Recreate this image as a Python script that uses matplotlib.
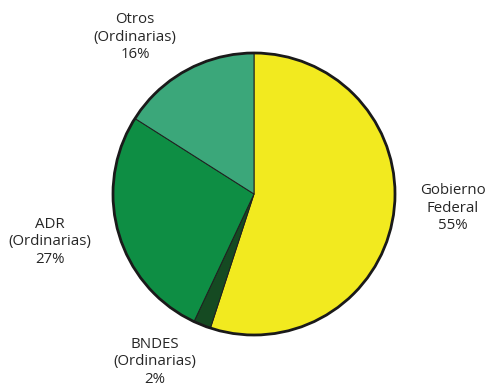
import matplotlib
matplotlib.use("Agg")
import matplotlib.pyplot as plt
from matplotlib.patches import Circle

# Shares of the total, drawn clockwise from 12 o'clock
labels = ["Gobierno\nFederal", "BNDES\n(Ordinarias)", "ADR\n(Ordinarias)", "Otros\n(Ordinarias)"]
shares = [55, 2, 27, 16]
colors = ["#F2EA1F", "#154A22", "#0E8E44", "#3BA77A"]

# label centre positions in pixel space (x, y from top)
label_pos = [(453, 208), (155, 362), (50, 242), (135, 37)]

W, H = 488, 388
fig = plt.figure(figsize=(W / 100, H / 100), dpi=100)
ax = fig.add_axes([0, 0, 1, 1])
ax.set_xlim(0, W)
ax.set_ylim(0, H)
ax.set_aspect("equal")
ax.axis("off")

cx, cy, r = 254, H - 194, 141
ax.pie(shares, colors=colors, startangle=90, counterclock=False,
       center=(cx, cy), radius=r,
       wedgeprops=dict(edgecolor="#1f1f1f", linewidth=0.7))
ax.add_patch(Circle((cx, cy), r, fill=False, edgecolor="#1a1a1a", linewidth=2.0, zorder=5))
ax.set_xlim(0, W)
ax.set_ylim(0, H)

for lab, val, (x, y) in zip(labels, shares, label_pos):
    ax.text(x, H - y, f"{lab}\n{val}%", ha="center", va="center",
            fontsize=10.8, family="Open Sans", color="#262626", linespacing=1.2)

fig.savefig("out.png", dpi=100)
